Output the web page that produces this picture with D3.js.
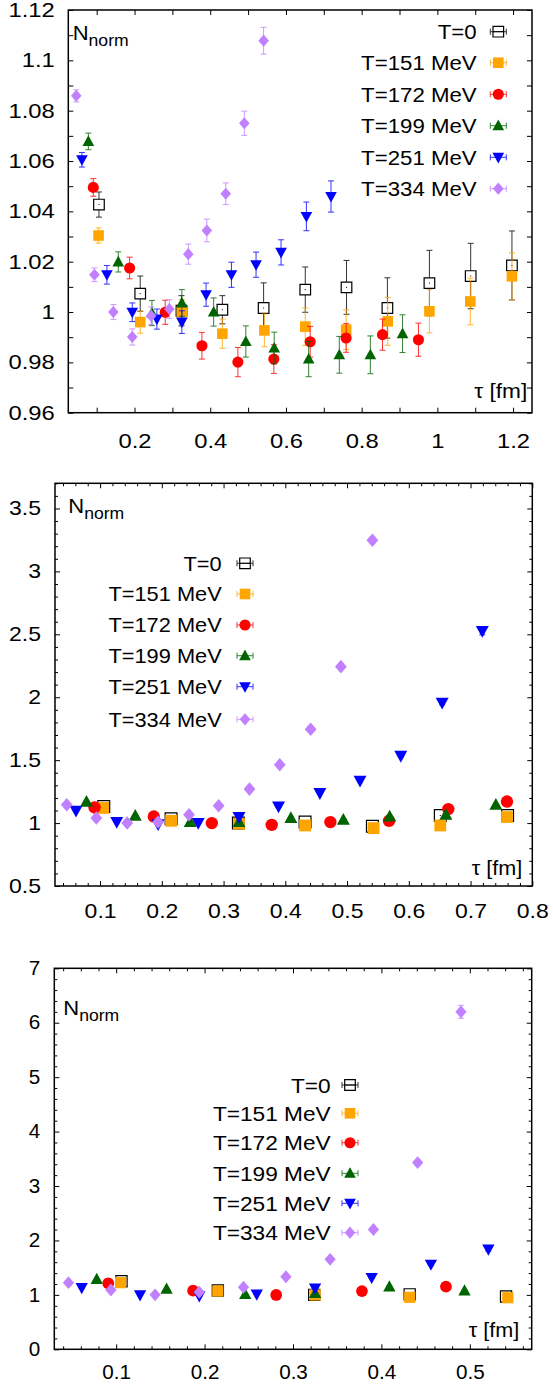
<!DOCTYPE html>
<html><head><meta charset="utf-8">
<script src="https://cdn.jsdelivr.net/npm/d3@7"></script>
<style>
body{margin:0;background:#fff}
svg{display:block}
text{font-family:"Liberation Sans",Arial,Helvetica,sans-serif;fill:#000}
</style>
</head><body>
<svg id="c" width="553" height="1384"></svg>
<script>
// ---------------- DATA ----------------
const seriesNames  = ["T=0","T=151 MeV","T=172 MeV","T=199 MeV","T=251 MeV","T=334 MeV"];
const seriesColors = ["#000000","#ffa500","#ff0000","#006400","#0000ff","#c080ff"];
const seriesShapes = ["openSquare","square","circle","triangle","triangleDown","diamond"];

// Euclidean time tau [fm] for each temperature
const tauT0   = [0.106,0.215,0.324,0.432,0.541,0.651,0.760,0.868,0.979,1.088,1.197];
const tauT151 = [0.105,0.215,0.325,0.432,0.543,0.651,0.759,0.869,0.979,1.087,1.197];
const tauT172 = [0.091,0.187,0.281,0.378,0.473,0.568,0.664,0.759,0.855,0.950];
const tauT199 = [0.078,0.157,0.246,0.325,0.409,0.494,0.569,0.660,0.741,0.823,0.908];
const tauT251 = [0.061,0.127,0.194,0.259,0.325,0.389,0.456,0.521,0.587,0.654,0.719];
const tauT334 = [0.046,0.094,0.144,0.194,0.244,0.292,0.342,0.391,0.441,0.490,0.541];

// Panel 1 values / errors
const p1T0    = [1.0427,1.0073,1.0005,1.0009,1.0016,1.0089,1.0098,1.0016,1.0115,1.0143,1.0185];
const p1T0e   = [0.005,0.007,0.006,0.0056,0.010,0.009,0.0107,0.012,0.013,0.013,0.0137];
const p1T151  = [1.0304,0.9960,1.0000,0.9914,0.9927,0.9942,0.9930,0.9963,1.0003,1.0042,1.0142];
const p1T151e = [0.003,0.0044,0.005,0.0058,0.0065,0.0074,0.0079,0.0095,0.0086,0.0093,0.0093];
const p1T172  = [1.0495,1.0175,0.9999,0.9866,0.9801,0.9813,0.9882,0.9897,0.9910,0.9890];
const p1T172e = [0.0035,0.0043,0.0048,0.0053,0.0058,0.0057,0.0061,0.0057,0.0062,0.0066];
const p1T199  = [1.0678,1.0199,0.9996,1.0036,1.0000,0.9883,0.9857,0.9813,0.9830,0.9830,0.9914];
const p1T199e = [0.0033,0.004,0.005,0.0053,0.0056,0.0062,0.0063,0.007,0.0073,0.0075,0.0075];
const p1T251  = [1.0605,1.0148,0.9999,0.9972,0.9960,1.0069,1.0148,1.0188,1.0237,1.0380,1.0459];
const p1T251e = [0.0029,0.0037,0.0037,0.004,0.0045,0.0046,0.005,0.005,0.005,0.0057,0.0062];
const p1T334  = [1.0859,1.0148,1.0000,0.9901,0.9985,1.0012,1.0230,1.0324,1.0470,1.0750,1.1078];
const p1T334e = [0.0024,0.0027,0.003,0.0032,0.0035,0.0037,0.004,0.0045,0.0043,0.0048,0.0053];

// Panel 2 values / errors
const p2T0    = [1.132,1.034,1.000,1.008,0.975,1.060,1.060];
const p2T0e   = [0.005,0.007,0.006,0.006,0.010,0.010,0.012];
const p2T151  = [1.120,1.018,0.995,0.981,0.960,0.981,1.048];
const p2T151e = [0.003,0.004,0.005,0.006,0.007,0.008,0.009];
const p2T172  = [1.124,1.052,1.000,0.986,1.008,1.018,1.111,1.171];
const p2T172e = [0.004,0.004,0.005,0.005,0.006,0.007,0.010,0.012];
const p2T199  = [1.170,1.058,1.008,1.008,1.040,1.026,1.052,1.066,1.145];
const p2T199e = [0.004,0.004,0.005,0.005,0.006,0.007,0.008,0.010,0.012];
const p2T251  = [1.098,1.008,0.990,1.000,1.048,1.132,1.238,1.336,1.534,1.957,2.526];
const p2T251e = [0.003,0.004,0.004,0.004,0.005,0.006,0.008,0.010,0.012,0.018,0.030];
const p2T334  = [1.145,1.040,1.000,1.008,1.066,1.137,1.270,1.463,1.746,2.243,3.248];
const p2T334e = [0.003,0.003,0.003,0.004,0.004,0.005,0.006,0.008,0.010,0.015,0.025];

// Panel 3 values / errors
const p3T0    = [1.250,1.080,1.000,1.010,0.970];
const p3T0e   = [0.006,0.008,0.006,0.010,0.012];
const p3T151  = [1.224,1.070,0.998,0.955,0.948];
const p3T151e = [0.004,0.005,0.005,0.008,0.010];
const p3T172  = [1.213,1.077,0.998,1.070,1.150];
const p3T172e = [0.004,0.005,0.005,0.008,0.012];
const p3T199  = [1.286,1.108,1.010,1.030,1.150,1.077];
const p3T199e = [0.004,0.005,0.006,0.008,0.010,0.015];
const p3T251  = [1.130,0.998,0.980,1.010,1.120,1.316,1.560,1.837];
const p3T251e = [0.003,0.004,0.004,0.005,0.006,0.010,0.015,0.030];
const p3T334  = [1.224,1.090,1.000,1.047,1.140,1.334,1.653,2.200,3.430,6.200];
const p3T334e = [0.003,0.003,0.003,0.004,0.005,0.007,0.012,0.020,0.050,0.120];

// Tick values
const p1XTicks = [0.2,0.4,0.6,0.8,1.0,1.2];
const p1XMinor = [0.1,0.3,0.5,0.7,0.9,1.1];
const p1YTicks = [0.96,0.98,1.0,1.02,1.04,1.06,1.08,1.1,1.12];
const p1YMinor = [0.97,0.99,1.01,1.03,1.05,1.07,1.09,1.11];
const p2XTicks = [0.1,0.2,0.3,0.4,0.5,0.6,0.7,0.8];
const p2XMinor = [0.04,0.06,0.08,0.12,0.14,0.16,0.18,0.22,0.24,0.26,0.28,0.32,0.34,0.36,0.38,0.42,0.44,0.46,0.48,0.52,0.54,0.56,0.58,0.62,0.64,0.66,0.68,0.72,0.74,0.76,0.78];
const p2YTicks = [0.5,1,1.5,2,2.5,3,3.5];
const p2YMinor = [0.6,0.7,0.8,0.9,1.1,1.2,1.3,1.4,1.6,1.7,1.8,1.9,2.1,2.2,2.3,2.4,2.6,2.7,2.8,2.9,3.1,3.2,3.3,3.4,3.6,3.7];
const p3XTicks = [0.1,0.2,0.3,0.4,0.5];
const p3XMinor = [0.04,0.06,0.08,0.12,0.14,0.16,0.18,0.22,0.24,0.26,0.28,0.32,0.34,0.36,0.38,0.42,0.44,0.46,0.48,0.52,0.54,0.56];
const p3YTicks = [0,1,2,3,4,5,6,7];
const p3YMinor = [0.2,0.4,0.6,0.8,1.2,1.4,1.6,1.8,2.2,2.4,2.6,2.8,3.2,3.4,3.6,3.8,4.2,4.4,4.6,4.8,5.2,5.4,5.6,5.8,6.2,6.4,6.6,6.8];

const allTau = [tauT0,tauT151,tauT172,tauT199,tauT251,tauT334];

function build(vals, errs){
  return vals.map((v,i)=>v.map((y,j)=>({x:allTau[i][j], y:y, e:errs[i][j]})));
}

const panels = [
 { box:{l:68.3,r:532,t:10,b:412.7}, xDom:[0.025,1.25], yDom:[0.96,1.12],
   xT:p1XTicks, xM:p1XMinor, yT:p1YTicks, yM:p1YMinor, majLen:5, minLen:5,
   tickFs:20.5, tickSx:1.16, xPad:20.5, yPad:13.5, ms:5.3,
   series: build([p1T0,p1T151,p1T172,p1T199,p1T251,p1T334],[p1T0e,p1T151e,p1T172e,p1T199e,p1T251e,p1T334e]),
   leg:{tx:476.7, sx:498.3, rows:[31.7,62.7,94.3,125.7,157.3,188.7], fs:21, stretch:1.06},
   nl:{x:72.7,y:40,fs:20,sub:16,dy:6,stretch:1.1}, tl:{x:527.3,y:398.3,fs:21,stretch:1.08} },
 { box:{l:55,r:532.3,t:483.3,b:886}, xDom:[0.027,0.8], yDom:[0.5,3.7],
   xT:p2XTicks, xM:p2XMinor, yT:p2YTicks, yM:p2YMinor, majLen:5, minLen:3,
   tickFs:20, tickSx:1.15, xPad:17.5, yPad:14, ms:5.9,
   series: build([p2T0,p2T151,p2T172,p2T199,p2T251,p2T334],[p2T0e,p2T151e,p2T172e,p2T199e,p2T251e,p2T334e]),
   leg:{tx:221.7, sx:245, rows:[563.3,594,625,655.7,686.7,719.3], fs:20, stretch:1.09},
   nl:{x:68.3,y:513.3,fs:20,sub:16,dy:6,stretch:1.1}, tl:{x:522.3,y:875,fs:20,stretch:1.08} },
 { box:{l:54.3,r:531.7,t:968.3,b:1349.3}, xDom:[0.03,0.57], yDom:[0,7],
   xT:p3XTicks, xM:p3XMinor, yT:p3YTicks, yM:p3YMinor, majLen:5, minLen:3,
   tickFs:19.5, tickSx:1.06, xPad:15.5, yPad:14, ms:5.6,
   series: build([p3T0,p3T151,p3T172,p3T199,p3T251,p3T334],[p3T0e,p3T151e,p3T172e,p3T199e,p3T251e,p3T334e]),
   leg:{tx:330.7, sx:350, rows:[1085,1113.3,1142.7,1173.3,1203.3,1232.7], fs:21, stretch:1.08},
   nl:{x:63.3,y:1015,fs:20,sub:16,dy:6,stretch:1.1}, tl:{x:519.3,y:1337,fs:20,stretch:1.08} }
];

const svg = d3.select("#c");
const fmt = d => String(+d.toFixed(2));

function markerPath(shape, s){
  const p = d3.path();
  if(shape==="square"||shape==="openSquare"){ p.rect(-s,-s,2*s,2*s); }
  else if(shape==="circle"){ p.arc(0,0,s*1.05,0,2*Math.PI); }
  else if(shape==="triangle"){ p.moveTo(0,-s*1.15); p.lineTo(s*1.1,s*0.85); p.lineTo(-s*1.1,s*0.85); p.closePath(); }
  else if(shape==="triangleDown"){ p.moveTo(0,s*1.15); p.lineTo(s*1.1,-s*0.85); p.lineTo(-s*1.1,-s*0.85); p.closePath(); }
  else if(shape==="diamond"){ p.moveTo(0,-s*1.15); p.lineTo(s*1.0,0); p.lineTo(0,s*1.15); p.lineTo(-s*1.0,0); p.closePath(); }
  return p.toString();
}
function drawMarker(g, shape, color, s){
  if(shape==="openSquare"){
    g.append("path").attr("d",markerPath(shape,s)).attr("fill","#fff").attr("stroke",color).attr("stroke-width",1.2);
    g.append("rect").attr("x",-0.5).attr("y",-0.5).attr("width",1).attr("height",1).attr("fill",color);
  } else {
    g.append("path").attr("d",markerPath(shape,s)).attr("fill",color);
  }
}
// place a horizontally stretched text
function stretchText(g, x, y, sx, anchor, fs){
  return g.append("text").attr("transform",`translate(${x},${y}) scale(${sx},1)`)
    .attr("text-anchor",anchor).attr("font-size",fs);
}

panels.forEach(P=>{
  const B=P.box;
  const x=d3.scaleLinear().domain(P.xDom).range([B.l,B.r]);
  const y=d3.scaleLinear().domain(P.yDom).range([B.b,B.t]);
  const g=svg.append("g");

  const styleAxis = (sel)=>{ sel.select(".domain").remove(); sel.selectAll("line").attr("stroke","#000").attr("stroke-width",1); };
  const styleLabels = (sel)=>{
    sel.selectAll("text").each(function(){
      const t=d3.select(this);
      const tx=+t.attr("x")||0, ty=+t.attr("y")||0;
      t.attr("x",null).attr("y",null)
       .attr("transform",`translate(${tx},${ty}) scale(${P.tickSx},1)`)
       .attr("font-size",P.tickFs).attr("font-family","Liberation Sans, Arial, sans-serif");
    });
  };

  // bottom major with labels
  g.append("g").attr("transform",`translate(0,${B.b})`)
    .call(d3.axisBottom(x).tickValues(P.xT).tickFormat(fmt).tickSizeInner(-P.majLen).tickSizeOuter(0).tickPadding(P.xPad))
    .call(styleAxis).call(styleLabels);
  g.append("g").attr("transform",`translate(0,${B.b})`)
    .call(d3.axisBottom(x).tickValues(P.xM).tickFormat("").tickSizeInner(-P.minLen).tickSizeOuter(0)).call(styleAxis);
  // top
  g.append("g").attr("transform",`translate(0,${B.t})`)
    .call(d3.axisTop(x).tickValues(P.xT).tickFormat("").tickSizeInner(-P.majLen).tickSizeOuter(0)).call(styleAxis);
  g.append("g").attr("transform",`translate(0,${B.t})`)
    .call(d3.axisTop(x).tickValues(P.xM).tickFormat("").tickSizeInner(-P.minLen).tickSizeOuter(0)).call(styleAxis);
  // left with labels
  g.append("g").attr("transform",`translate(${B.l},0)`)
    .call(d3.axisLeft(y).tickValues(P.yT).tickFormat(fmt).tickSizeInner(-P.majLen).tickSizeOuter(0).tickPadding(P.yPad))
    .call(styleAxis).call(styleLabels);
  g.append("g").attr("transform",`translate(${B.l},0)`)
    .call(d3.axisLeft(y).tickValues(P.yM).tickFormat("").tickSizeInner(-P.minLen).tickSizeOuter(0)).call(styleAxis);
  // right
  g.append("g").attr("transform",`translate(${B.r},0)`)
    .call(d3.axisRight(y).tickValues(P.yT).tickFormat("").tickSizeInner(-P.majLen).tickSizeOuter(0)).call(styleAxis);
  g.append("g").attr("transform",`translate(${B.r},0)`)
    .call(d3.axisRight(y).tickValues(P.yM).tickFormat("").tickSizeInner(-P.minLen).tickSizeOuter(0)).call(styleAxis);

  // frame
  g.append("rect").attr("x",B.l).attr("y",B.t).attr("width",B.r-B.l).attr("height",B.b-B.t)
    .attr("fill","none").attr("stroke","#000").attr("stroke-width",1.5);

  // data
  P.series.forEach((pts,si)=>{
    const col=seriesColors[si];
    const sg=g.append("g");
    pts.forEach(d=>{
      const px=x(d.x), py=y(d.y), y1=y(d.y-d.e), y2=y(d.y+d.e);
      const eg=sg.append("g").attr("stroke",col).attr("stroke-width",1).attr("opacity",0.8);
      eg.append("line").attr("x1",px).attr("x2",px).attr("y1",y1).attr("y2",y2);
      eg.append("line").attr("x1",px-3).attr("x2",px+3).attr("y1",y1).attr("y2",y1);
      eg.append("line").attr("x1",px-3).attr("x2",px+3).attr("y1",y2).attr("y2",y2);
      const mg=sg.append("g").attr("transform",`translate(${px},${py})`);
      drawMarker(mg, seriesShapes[si], col, P.ms);
    });
  });

  // legend
  const L=P.leg;
  seriesNames.forEach((name,i)=>{
    const cy=L.rows[i];
    stretchText(g, L.tx, cy+L.fs*0.36, L.stretch, "end", L.fs).text(name);
    const col=seriesColors[i];
    const lg=g.append("g").attr("stroke",col).attr("stroke-width",1).attr("opacity",0.8);
    lg.append("line").attr("x1",L.sx-8).attr("x2",L.sx+8).attr("y1",cy).attr("y2",cy);
    lg.append("line").attr("x1",L.sx-8).attr("x2",L.sx-8).attr("y1",cy-3).attr("y2",cy+3);
    lg.append("line").attr("x1",L.sx+8).attr("x2",L.sx+8).attr("y1",cy-3).attr("y2",cy+3);
    const mg=g.append("g").attr("transform",`translate(${L.sx},${cy})`);
    if(seriesShapes[i]==="openSquare"){
      mg.append("path").attr("d",markerPath("square",5.3)).attr("fill","none").attr("stroke",col).attr("stroke-width",1.2);
      mg.append("line").attr("x1",-5.3).attr("x2",5.3).attr("y1",0).attr("y2",0).attr("stroke",col);
    } else {
      drawMarker(mg, seriesShapes[i], col, 5.3);
    }
  });

  // N_norm label
  const nt=stretchText(g, P.nl.x, P.nl.y, P.nl.stretch, "start", P.nl.fs);
  nt.append("tspan").text("N");
  nt.append("tspan").attr("font-size",P.nl.sub).attr("dy",P.nl.dy).text("norm");
  // tau label
  stretchText(g, P.tl.x, P.tl.y, P.tl.stretch, "end", P.tl.fs).text("τ [fm]");
});
</script>
</body></html>
